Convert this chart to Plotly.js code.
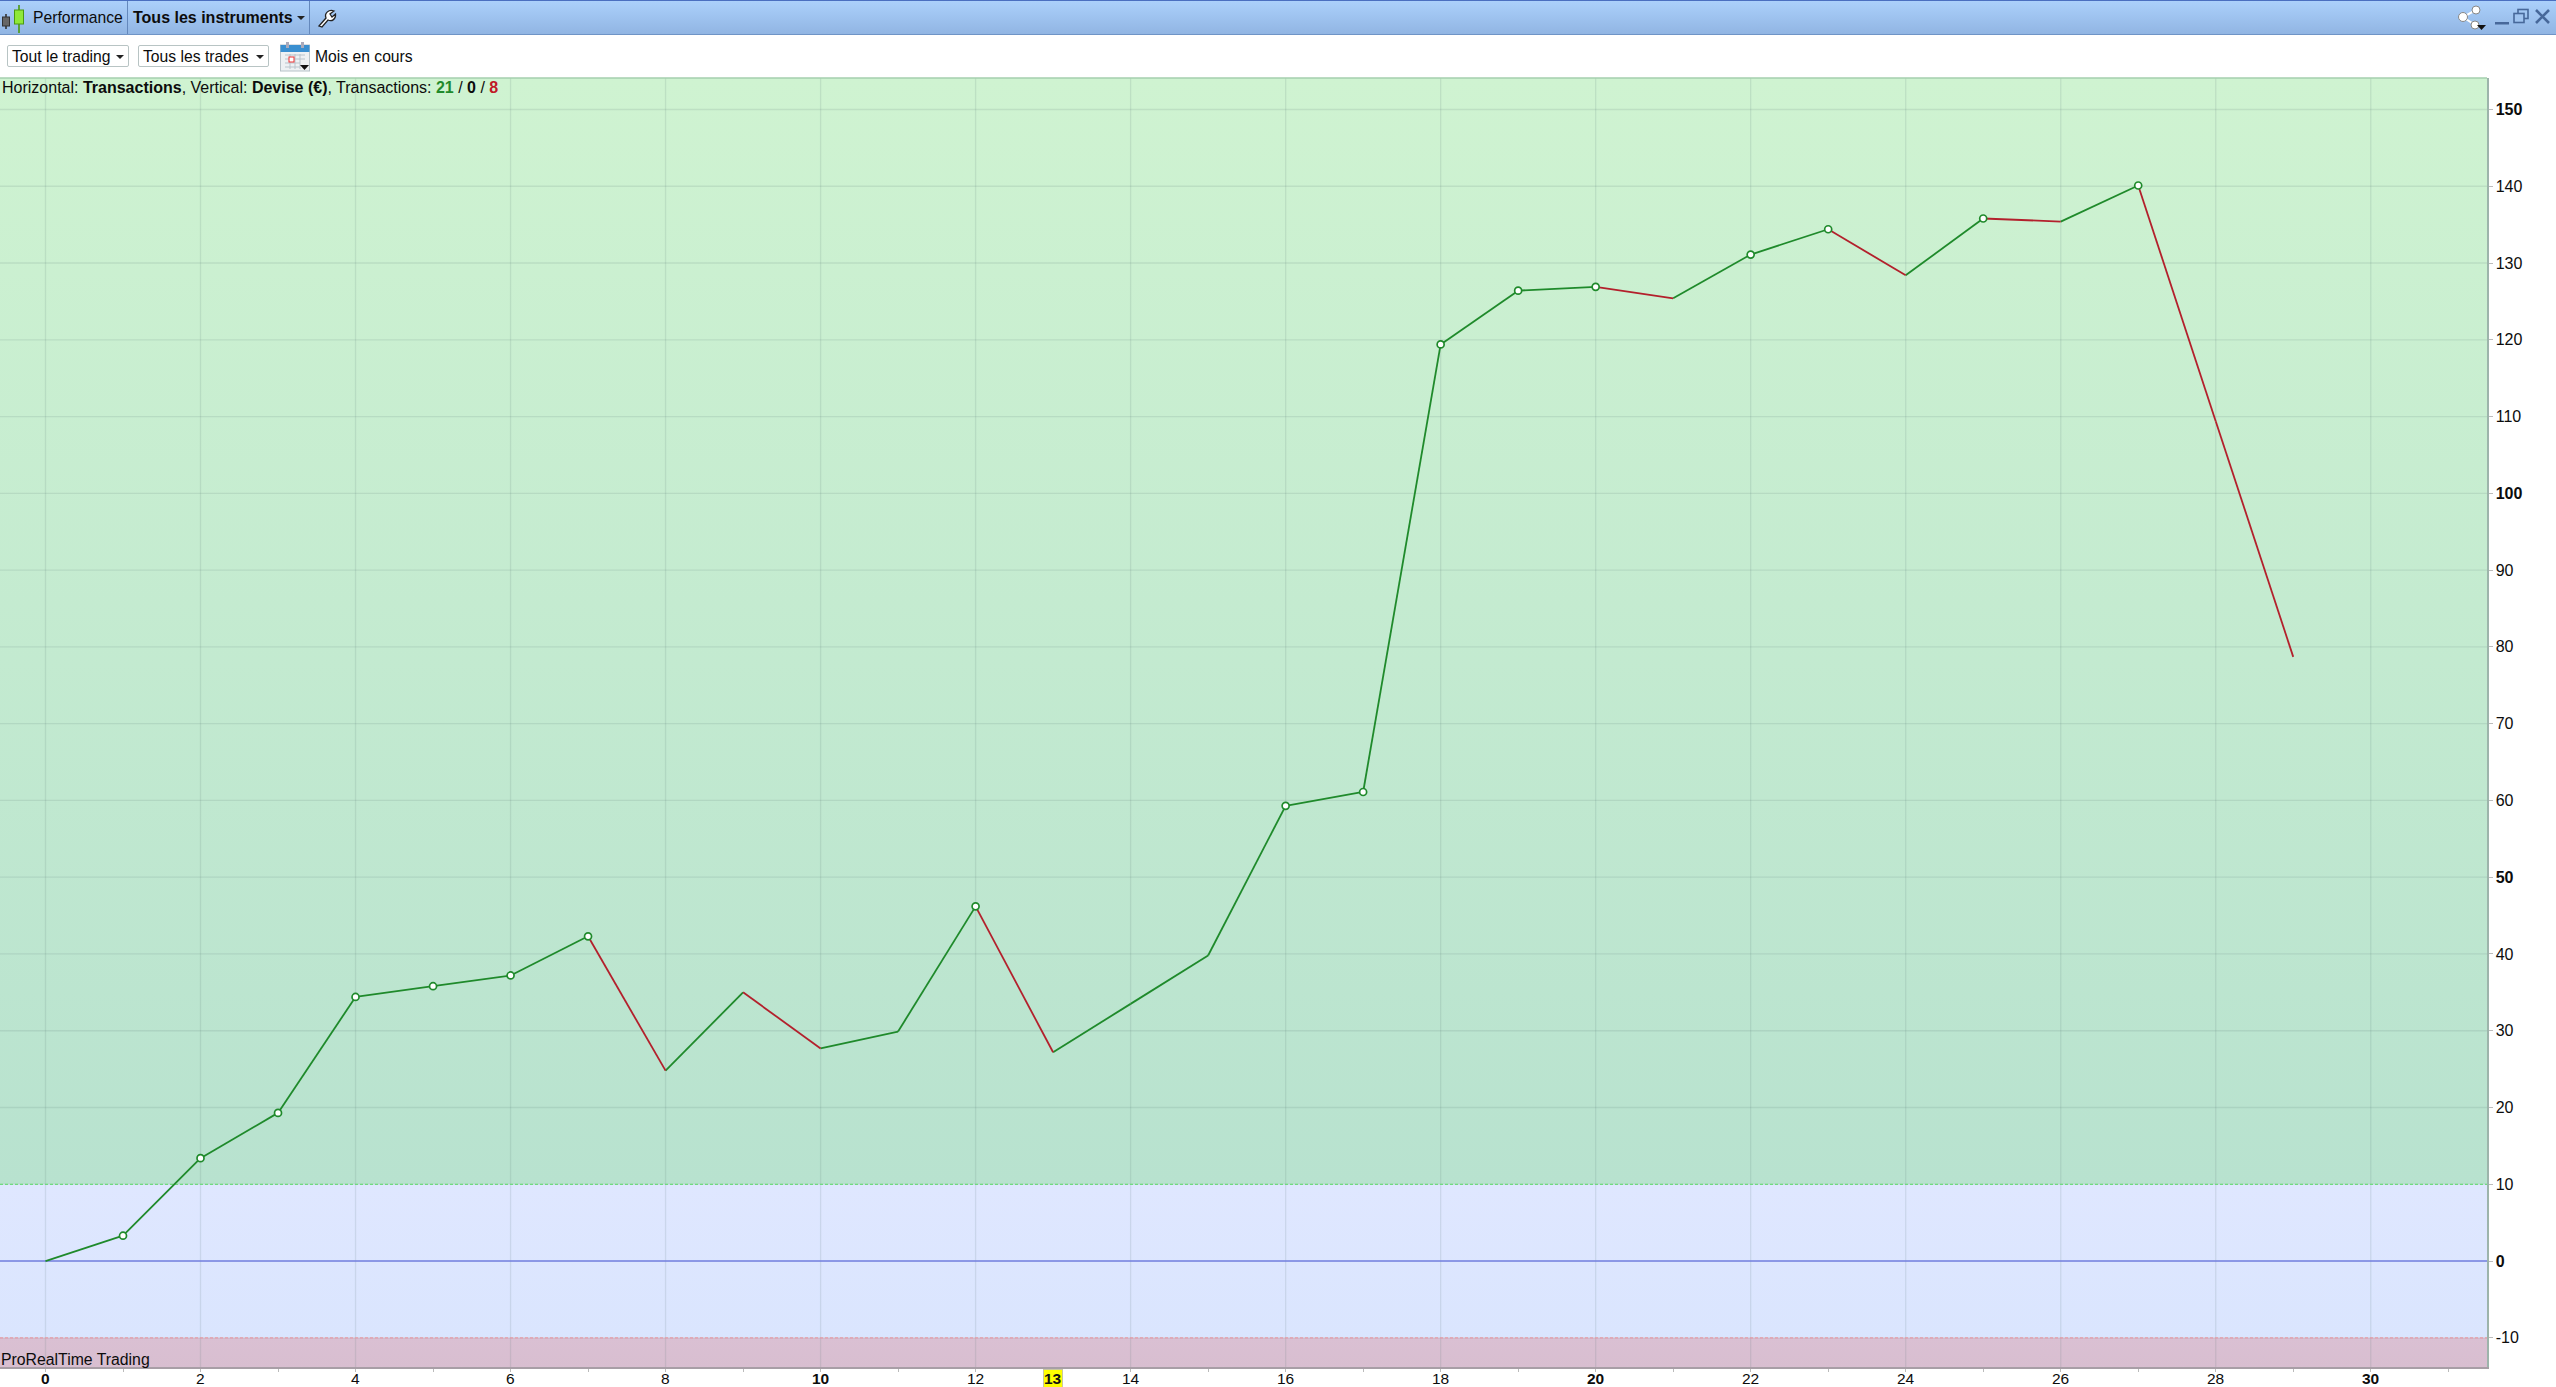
<!DOCTYPE html>
<html lang="fr">
<head>
<meta charset="utf-8">
<title>Performance</title>
<script src="https://cdn.plot.ly/plotly-3.0.1.min.js"></script>
<style>
html,body{margin:0;padding:0;background:#fff;width:2556px;height:1387px;overflow:hidden;font-family:"Liberation Sans",Arial,sans-serif;color:#0c0c0c}
#chart{position:absolute;left:0;top:0;width:2556px;height:1387px}
#topbar{position:absolute;left:0;top:0;width:2556px;height:35px;box-sizing:border-box;background:linear-gradient(#abd0fb,#91b5e3);border-top:1px solid #4a6fc0;border-bottom:1px solid #6f94c6;z-index:2}
.t{position:absolute;font-size:15.7px;line-height:18px;white-space:nowrap;z-index:3}
.sep{position:absolute;top:1px;width:1px;height:33px;background:#6488bc;z-index:3}
.btn{position:absolute;top:45px;height:22px;box-sizing:border-box;border:1px solid #b8c4c4;border-radius:2px;background:#fff;z-index:3}
.caret{position:absolute;width:0;height:0;border-left:4px solid transparent;border-right:4px solid transparent;border-top:4px solid #222;z-index:4}
svg.i{position:absolute;z-index:4}
</style>
</head>
<body>
<div id="chart"></div>
<div id="topbar"></div>
<svg class="i" style="left:0;top:0" width="28" height="35" viewBox="0 0 28 35"><line x1="6" y1="14" x2="6" y2="29" stroke="#333" stroke-width="1.6"/><rect x="2.5" y="17" width="7" height="9" fill="#666" stroke="#333"/><line x1="19" y1="5" x2="19" y2="33" stroke="#4a9a10" stroke-width="1.6"/><rect x="14.5" y="10" width="9" height="14" fill="#8fe83a" stroke="#4a9a10"/></svg>
<div class="t" style="left:33px;top:9px">Performance</div>
<div class="sep" style="left:127px"></div>
<div class="t" style="left:133px;top:9px;font-weight:bold;font-size:16px">Tous les instruments</div>
<div class="caret" style="left:297px;top:16px"></div>
<div class="sep" style="left:309px"></div>
<svg class="i" style="left:317px;top:8px" width="20" height="20" viewBox="0 0 20 20"><path d="M2 18 L9 10 C7 5 12 1 17 3 L13 6 L15 9 L18.5 6 C19 11 15 14 11 12 L5 19 Z" fill="#fff" stroke="#222" stroke-width="1.3"/></svg>
<svg class="i" style="left:2456px;top:4px" width="34" height="28" viewBox="0 0 34 28"><path d="M20 6 L7 13 L19 21" fill="none" stroke="#fff" stroke-width="2"/><circle cx="20" cy="6" r="4" fill="#fff" stroke="#888"/><circle cx="7" cy="13" r="4.5" fill="#fff" stroke="#888"/><circle cx="19" cy="21" r="4" fill="#fff" stroke="#888"/><path d="M21 21 H30 L25.5 26 Z" fill="#111"/></svg>
<svg class="i" style="left:2494px;top:8px" width="60" height="20" viewBox="0 0 60 20"><rect x="1" y="14" width="14" height="2.5" fill="#47689a"/><rect x="24" y="1.5" width="10" height="9" fill="none" stroke="#47689a" stroke-width="1.6"/><rect x="20" y="5.5" width="10" height="9" fill="#a0c4f0" stroke="#47689a" stroke-width="1.6"/><path d="M42 2 L55 15 M55 2 L42 15" stroke="#47689a" stroke-width="2.6"/></svg>

<div class="btn" style="left:7px;width:122px"></div>
<div class="t" style="left:12px;top:48px">Tout le trading</div>
<div class="caret" style="left:116px;top:55px"></div>
<div class="btn" style="left:138px;width:131px"></div>
<div class="t" style="left:143px;top:48px">Tous les trades</div>
<div class="caret" style="left:256px;top:55px"></div>
<svg class="i" style="left:280px;top:42px" width="30" height="30" viewBox="0 0 30 30"><rect x="0.5" y="3" width="29" height="26" fill="#eef1f3" stroke="#b8c2c8"/><rect x="0.5" y="3" width="29" height="7" fill="#3a8fd0"/><rect x="6" y="0" width="3" height="6" fill="#aab"/><rect x="21" y="0" width="3" height="6" fill="#aab"/><path d="M5 13H25M5 17H25M5 21H20M5 25H20M10 12V27M15 12V27M20 12V27" stroke="#b9c4cc" fill="none"/><rect x="9" y="15" width="5" height="5" fill="#fff" stroke="#e33"/><path d="M20 23H29L24.5 28Z" fill="#111"/></svg>
<div class="t" style="left:315px;top:48px">Mois en cours</div>

<script>
const tradeIndex = [0,1,2,3,4,5,6,7,8,9,10,11,12,13,14,15,16,17,18,19,20,21,22,23,24,25,26,27,28,29];
const equity = [0,3.3,13.4,19.3,34.4,35.8,37.2,42.3,24.8,35.0,27.7,29.9,46.2,27.2,33.5,39.8,59.3,61.1,119.4,126.4,126.9,125.4,131.1,134.4,128.4,135.8,135.4,140.1,109.4,78.7];
const newHighIndex = [1,2,3,4,5,6,7,12,16,17,18,19,20,22,23,25,27];
const xTicks = [0,1,2,3,4,5,6,7,8,9,10,11,12,13,14,15,16,17,18,19,20,21,22,23,24,25,26,27,28,29,30,31];
const xGridTicks = [0,2,4,6,8,10,12,14,16,18,20,22,24,26,28,30];
const xBoldTicks = [0,10,20,30];
const yTicks = [-10,0,10,20,30,40,50,60,70,80,90,100,110,120,130,140,150];
const yBoldTicks = [0,50,100,150];
const xRange = [-0.587,31.5];
const yRange = [-13.8,154.1];
const upperLevel = 10;
const zeroLevel = 0;
const lowerLevel = -10;
const currentTrade = 13;
const winners = 21, neutral = 0, losers = 8;

const GREEN = '#1f8a2b', RED = '#b3202c';
const FONT = '"Liberation Sans", Arial, sans-serif';
const INK = '#0c0c0c';

function zone(y0,y1,c0,c1){
  return {type:'scatter',mode:'lines',x:[xRange[0],xRange[1],xRange[1],xRange[0],xRange[0]],y:[y0,y0,y1,y1,y0],
    fill:'toself',line:{width:0},hoverinfo:'skip',showlegend:false,
    fillgradient:{type:'vertical',start:y0,stop:y1,colorscale:[[0,c0],[1,c1]]}};
}
const gridX=[],gridY=[];
xGridTicks.forEach(v=>{gridX.push(v,v,null);gridY.push(yRange[0],yRange[1],null);});
yTicks.forEach(v=>{gridX.push(xRange[0],xRange[1],null);gridY.push(v,v,null);});

const upX=[],upY=[],downX=[],downY=[];
for(let i=0;i<equity.length-1;i++){
  const X=equity[i+1]>=equity[i]?upX:downX, Y=equity[i+1]>=equity[i]?upY:downY;
  X.push(tradeIndex[i],tradeIndex[i+1],null);Y.push(equity[i],equity[i+1],null);
}
function level(v,color,width,dash){
  return {type:'scatter',mode:'lines',x:xRange,y:[v,v],line:{color:color,width:width,dash:dash},hoverinfo:'skip',showlegend:false};
}
const traces=[
  zone(upperLevel,yRange[1],'rgb(184,226,207)','rgb(207,243,209)'),
  zone(lowerLevel,upperLevel,'rgb(218,229,254)','rgb(223,231,255)'),
  zone(yRange[0],lowerLevel,'rgb(216,190,208)','rgb(218,192,211)'),
  {type:'scatter',mode:'lines',x:gridX,y:gridY,line:{color:'rgba(85,115,115,0.14)',width:1.3},hoverinfo:'skip',showlegend:false,connectgaps:false},
  level(upperLevel,'#6fdc7e',1.2,'3px,2px'),
  level(lowerLevel,'#e89aa6',1.2,'3px,2px'),
  level(zeroLevel,'#7480e2',1.6,'solid'),
  {type:'scatter',mode:'lines',x:upX,y:upY,line:{color:GREEN,width:1.8},showlegend:false,connectgaps:false},
  {type:'scatter',mode:'lines',x:downX,y:downY,line:{color:RED,width:1.8},showlegend:false,connectgaps:false},
  {type:'scatter',mode:'markers',x:newHighIndex,y:newHighIndex.map(i=>equity[i]),
    marker:{symbol:'circle',size:7,color:'#ffffff',line:{color:GREEN,width:1.7}},showlegend:false}
];
const xLabelNotes = xGridTicks.map(v=>({
  xref:'x',yref:'paper',x:v,y:0,yshift:-11,xanchor:'center',yanchor:'middle',showarrow:false,borderpad:0,
  font:{family:FONT,size:15.5,color:INK},
  text:xBoldTicks.includes(v)?'<b>'+v+'</b>':String(v)
}));
const layout={
  width:2556,height:1387,autosize:false,
  margin:{l:0,r:69,t:78,b:20,pad:0},
  paper_bgcolor:'rgba(0,0,0,0)',plot_bgcolor:'rgba(0,0,0,0)',
  font:{family:FONT,size:16,color:INK},
  hovermode:false,showlegend:false,
  xaxis:{range:xRange,showgrid:false,zeroline:false,showline:true,linecolor:'#a89ea6',linewidth:1.5,
    tickmode:'array',tickvals:xTicks,showticklabels:false,
    ticks:'outside',ticklen:3,tickcolor:'#bbbbbb',tickwidth:1},
  yaxis:{range:yRange,side:'right',showgrid:false,zeroline:false,showline:true,linecolor:'#9db4ab',linewidth:1.5,
    tickmode:'array',tickvals:yTicks,
    ticktext:yTicks.map(v=>yBoldTicks.includes(v)?'<b>'+v+'</b>':String(v)),
    ticks:'outside',ticklen:4,tickcolor:'#bbbbbb',tickwidth:1,tickfont:{family:FONT,size:16,color:INK}},
  shapes:[{type:'line',xref:'paper',yref:'paper',x0:0,x1:1,y0:1,y1:1,line:{color:'#a5cfae',width:1.5},layer:'above'}],
  annotations:xLabelNotes.concat([
    {xref:'paper',yref:'paper',x:0,y:1-10/1289,xshift:0,xanchor:'left',yanchor:'middle',showarrow:false,align:'left',
     font:{family:FONT,size:16,color:INK},
     text:'Horizontal: <b>Transactions</b>, Vertical: <b>Devise (€)</b>, Transactions: <span style="color:#1f8a2b"><b>'+winners+'</b></span> / <b>'+neutral+'</b> / <span style="color:#c01826"><b>'+losers+'</b></span>'},
    {xref:'paper',yref:'paper',x:0,y:8/1289,xshift:-1,xanchor:'left',yanchor:'middle',showarrow:false,
     font:{family:FONT,size:15.8,color:INK},text:'ProRealTime Trading'},
    {xref:'x',yref:'paper',x:currentTrade,y:0,yshift:-11,xanchor:'center',yanchor:'middle',showarrow:false,
     font:{family:FONT,size:15.5,color:'#111'},bgcolor:'#ffff00',bordercolor:'#c8c8a0',borderwidth:1,borderpad:0,
     text:'<b>'+currentTrade+'</b>'}
  ])
};
Plotly.newPlot('chart',traces,layout,{displayModeBar:false,staticPlot:true});
</script>
</body>
</html>
